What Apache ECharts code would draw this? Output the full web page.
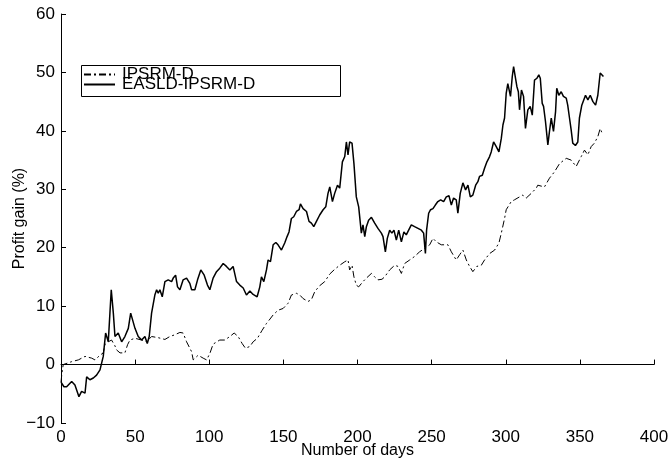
<!DOCTYPE html>
<html lang="en">
<head>
    <meta charset="UTF-8">
    <title>Profit gain</title>
    <script src="https://cdn.jsdelivr.net/npm/echarts/dist/echarts.min.js"></script>
    <style>
        body { margin: 0; background: #fff; }
        #chart { width: 669px; height: 460px; }
    </style>
</head>
<body>
    <div id="chart"></div>

    <script>
        // IPSRM-D (dash-dot line)
        var ipsrmDays = [0, 0.6, 1.5, 2.7, 7.2, 11.7, 16.2, 20.7, 22.9, 26.3, 28.5, 29.6, 31.9, 34.1, 36.4, 37.5, 39.8, 43.1, 44.9, 46.5,
            49.9, 54.4, 57.7, 61.1, 65.6, 70.1, 73.4, 76.8, 80.2, 82.4, 84.7, 86.5, 88.1, 89.2, 92.5, 95.9, 98.2, 100.4, 102.6, 107.1,
            110.5, 113.9, 116.8, 119.5, 122.2, 124.4, 127.4, 129.6, 132.5, 135.5, 138.5, 141, 143.1, 146.4, 149.8, 153.2, 155.4, 158.8, 161.1, 163.3,
            166.6, 168.9, 171.2, 174.5, 177.9, 181.3, 184.6, 188, 191.4, 193.6, 194.7, 196.3, 197.6, 199.2, 200.8, 203.7, 206, 209.4, 211.6, 213.8,
            216.5, 218.3, 221.7, 225.1, 227.3, 229.6, 231.8, 235.2, 238.5, 241.9, 245.3, 248.7, 250.9, 253.2, 256.5, 261, 263.3, 266.6, 268.9, 271.1,
            273.4, 275.6, 277.8, 280.5, 283.5, 285.7, 289.1, 292.5, 295.4, 297, 299.2, 300.3, 303.7, 305.9, 309.3, 311.5, 313.8, 317.2, 320.6, 321.6,
            326.1, 329.5, 332.9, 336.3, 340.8, 344.1, 347.5, 350.9, 353.1, 355.4, 357.6, 359.8, 362.1, 363.7, 365];
        var ipsrmGain = [-3.0, -1.5, 0.0, 0.2, 0.5, 0.8, 1.4, 1.1, 0.8, 1.6, 2.0, 3.4, 3.9, 4.2, 3.2, 2.5, 2.0, 2.0, 3.4, 4.2,
            4.5, 4.2, 3.9, 4.8, 4.6, 4.3, 4.8, 5.1, 5.5, 5.4, 3.9, 3.0, 2.2, 0.8, 1.6, 1.1, 0.8, 1.9, 3.5, 4.2,
            4.2, 4.8, 5.4, 4.8, 3.6, 2.8, 3.1, 3.9, 4.5, 5.8, 7.0, 7.8, 8.5, 9.3, 9.6, 10.5, 11.9, 12.2, 11.9, 11.3,
            10.8, 11.1, 12.5, 13.5, 14.2, 15.5, 16.3, 17.0, 17.6, 17.9, 16.2, 17.0, 15.0, 13.6, 13.3, 14.2, 14.8, 15.6, 15.0, 14.5,
            14.6, 15.0, 16.2, 17.0, 16.8, 15.6, 17.3, 17.9, 18.5, 19.3, 19.9, 20.5, 21.6, 21.0, 20.5, 20.5, 19.3, 17.9, 18.8, 19.6,
            17.9, 16.8, 15.9, 16.8, 17.0, 17.9, 19.0, 19.6, 20.8, 22.5, 25.0, 26.5, 27.9, 28.2, 28.7, 29.0, 28.5, 29.3, 30.2, 30.7,
            30.4, 31.9, 33.0, 34.4, 35.3, 35.0, 33.9, 35.6, 36.7, 35.9, 37.3, 37.9, 39.0, 40.4, 39.6];

        // EASLD-IPSRM-D (solid line)
        var easldDays = [0, 2, 3.8, 7.2, 9.4, 12.1, 13.9, 16.2, 17.3, 19.5, 21.8, 24, 26.3, 28.5, 30.1, 31.9, 33, 33.9, 35.3, 36.4,
            38.6, 40.9, 43.1, 45.4, 47, 48.3, 49.9, 52.1, 54.4, 56.6, 58.2, 59.5, 61.1, 63.3, 64.5, 65.6, 66.7, 68.3, 70.1, 72.3,
            74.6, 75.7, 77.3, 78.6, 80.2, 82.4, 84.7, 86.9, 88.1, 90.3, 92.1, 94.3, 96.6, 98.8, 100.4, 102.6, 104.9, 107.1, 109.4, 111.6,
            113.9, 116.1, 118.4, 120.6, 122.9, 125.1, 127.4, 129.6, 132.3, 134.1, 135.2, 136.8, 138.6, 139.7, 141.3, 143.1, 144.9, 146.4, 148.7, 150.9,
            152.5, 153.8, 155.4, 157, 158.8, 160.6, 161.5, 163.3, 165.6, 167.3, 168.9, 170.5, 172.3, 174.5, 176.8, 178.6, 180.1, 181.3, 183.1, 184.6,
            186.5, 188, 189.8, 191.4, 192.5, 193.6, 194.7, 196.3, 197.6, 199.2, 200.8, 202.6, 203.7, 204.9, 206, 207.5, 209.4, 211.6, 213.8, 216.1,
            217.2, 218.8, 220.1, 221.7, 223.2, 224.6, 226.2, 227.8, 229.6, 231.3, 232.9, 234.5, 236.3, 238.5, 240.8, 243.1, 244.6, 245.8, 246.6, 248,
            249.3, 250.9, 252.5, 254.2, 256.1, 258.1, 259.9, 261.7, 263.3, 264.8, 266.6, 267.7, 269.3, 271.1, 272.9, 274.5, 276.1, 277.8, 279.7, 281.2,
            282.3, 284.2, 285.7, 287.3, 289.1, 290.2, 291.8, 293.6, 295.4, 297, 298.1, 299.2, 300.3, 301.4, 302.6, 303.2, 304.4, 305.3, 306.6, 307.5,
            308.5, 309.3, 310.6, 312, 313.3, 314.9, 316.5, 317.9, 319.4, 321, 322.3, 323.3, 324.6, 325.5, 326.8, 328.4, 329.5, 330.7, 332.2, 333.6,
            334.4, 335.8, 337.4, 338.9, 340.8, 341.8, 343, 344.1, 345.2, 347, 348.6, 349.7, 351.3, 352.4, 353.8, 355.4, 357, 358.8, 360.6, 362.1,
            363.7, 365, 365.9];
        var easldGain = [-3.0, -3.8, -3.8, -2.9, -3.5, -5.5, -4.6, -4.9, -2.1, -2.6, -2.3, -1.8, -0.9, 1.4, 5.4, 3.9, 8.8, 12.8, 8.8, 4.8,
            5.4, 3.9, 4.8, 6.2, 8.8, 9.1, 6.2, 4.8, 4.2, 4.8, 3.6, 4.8, 8.8, 11.9, 12.8, 12.2, 12.8, 11.6, 14.2, 14.5,
            14.2, 14.8, 15.3, 13.3, 12.8, 14.5, 14.8, 13.9, 12.8, 12.8, 14.5, 16.2, 15.3, 13.6, 12.8, 14.8, 15.9, 16.5, 17.3, 16.8,
            16.2, 16.8, 14.2, 13.6, 13.1, 11.9, 12.6, 12.0, 11.6, 13.3, 15.0, 14.2, 16.2, 17.9, 17.6, 20.5, 20.9, 20.5, 19.6, 20.8,
            21.9, 22.7, 25.0, 25.3, 26.2, 26.5, 27.5, 26.7, 26.2, 24.5, 24.2, 23.6, 24.5, 25.6, 26.5, 27.0, 29.3, 30.4, 27.9, 29.3,
            30.7, 30.2, 34.7, 35.6, 38.1, 35.9, 38.1, 37.9, 34.4, 28.7, 27.0, 22.5, 23.9, 21.9, 23.6, 24.7, 25.2, 24.2, 23.3, 22.5,
            21.9, 19.3, 21.6, 23.0, 22.5, 23.0, 21.3, 23.0, 21.0, 22.7, 22.2, 23.0, 23.9, 23.6, 23.3, 23.0, 22.5, 19.0, 23.0, 25.9,
            26.5, 26.7, 27.3, 27.9, 28.2, 27.9, 28.7, 28.9, 27.3, 28.5, 28.2, 25.9, 29.3, 31.1, 29.9, 30.7, 28.7, 29.0, 30.7, 31.3,
            32.2, 32.4, 33.6, 34.7, 35.6, 36.4, 38.1, 37.3, 36.4, 38.7, 41.0, 42.2, 46.4, 48.1, 48.4, 45.9, 49.3, 51.0, 49.0, 47.6,
            46.7, 43.6, 47.0, 45.9, 40.4, 43.6, 44.2, 42.7, 48.7, 49.0, 49.6, 49.0, 44.7, 44.2, 41.6, 37.6, 39.9, 42.2, 39.9, 43.3,
            47.3, 46.1, 46.7, 45.9, 45.6, 44.4, 42.2, 40.2, 37.9, 37.5, 38.1, 42.2, 44.4, 44.7, 46.1, 45.3, 46.1, 45.0, 44.4, 46.1,
            49.9, 49.6, 49.3];

        var xTicks = [0, 50, 100, 150, 200, 250, 300, 350, 400];
        var yTicks = [-10, 0, 10, 20, 30, 40, 50, 60];

        function pairs(xs, ys) {
            return xs.map(function (x, i) { return [x, ys[i]]; });
        }

        var font = 'Liberation Sans, Arial, Helvetica, sans-serif';
        var chart = echarts.init(document.getElementById('chart'));

        chart.setOption({
            animation: false,
            grid: { left: 61, right: 15, top: 14, bottom: 37, containLabel: false, outerBoundsMode: 'none' },
            legend: {
                left: 83, top: 66,
                padding: 0,
                orient: 'vertical',
                itemGap: -7,
                itemWidth: 31,
                itemHeight: 10,
                itemStyle: { opacity: 0 },
                textStyle: { fontFamily: font, fontSize: 17, color: '#000', padding: [0, 0, 0, 2] },
                data: ['IPSRM-D', 'EASLD-IPSRM-D']
            },
            graphic: [{
                type: 'rect',
                left: 79, top: 63,
                shape: { width: 259, height: 31 },
                style: { fill: 'none', stroke: '#000', lineWidth: 1 },
                z: 10
            }],
            xAxis: {
                type: 'value',
                min: xTicks[0], max: xTicks[xTicks.length - 1], interval: 50,
                name: 'Number of days',
                nameLocation: 'middle',
                nameGap: 20,
                nameMoveOverlap: false,
                nameTextStyle: { fontFamily: font, fontSize: 16, color: '#000' },
                axisLine: { lineStyle: { color: '#000', width: 1 } },
                axisTick: { inside: true, length: 5, lineStyle: { color: '#000' } },
                axisLabel: { fontFamily: font, fontSize: 17, color: '#000', margin: 6 },
                splitLine: { show: false }
            },
            yAxis: {
                type: 'value',
                min: yTicks[0], max: yTicks[yTicks.length - 1], interval: 10,
                name: 'Profit gain (%)',
                nameLocation: 'middle',
                nameGap: 33,
                nameMoveOverlap: false,
                nameTextStyle: { fontFamily: font, fontSize: 16, color: '#000' },
                axisLine: { show: true, lineStyle: { color: '#000', width: 1 } },
                axisTick: { show: true, inside: true, length: 5, lineStyle: { color: '#000' } },
                axisLabel: {
                    fontFamily: font, fontSize: 17, color: '#000', margin: 6,
                    formatter: function (v) { return String(v).replace('-', '\u2212'); }
                },
                splitLine: { show: false }
            },
            series: [
                {
                    name: 'IPSRM-D',
                    type: 'line',
                    symbol: 'none',
                    data: pairs(ipsrmDays, ipsrmGain),
                    lineStyle: { color: '#000', width: 1, type: [7, 3, 2, 3] },
                    itemStyle: { color: '#000' }
                },
                {
                    name: 'EASLD-IPSRM-D',
                    type: 'line',
                    symbol: 'none',
                    data: pairs(easldDays, easldGain),
                    lineStyle: { color: '#000', width: 1.5 },
                    itemStyle: { color: '#000' }
                }
            ]
        });
    </script>
</body>
</html>
